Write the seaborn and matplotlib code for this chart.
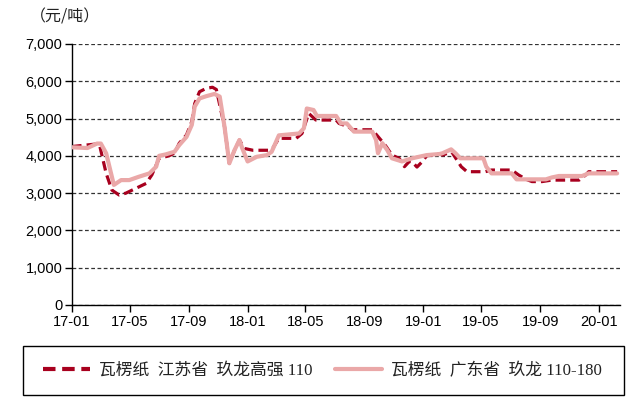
import numpy as np
import pandas as pd
import matplotlib
matplotlib.use("Agg")
import matplotlib.pyplot as plt
import matplotlib.dates as mdates
from matplotlib.lines import Line2D
from matplotlib.patches import Rectangle
import seaborn as sns

# ---- data ----
js_dates = ["2017-01-01", "2017-02-22", "2017-02-28", "2017-03-13", "2017-03-25", "2017-04-09",
            "2017-04-23", "2017-05-14", "2017-06-04", "2017-06-16", "2017-07-01", "2017-07-21",
            "2017-08-02", "2017-08-12", "2017-08-27", "2017-09-07", "2017-09-13", "2017-09-23",
            "2017-10-07", "2017-10-20", "2017-10-28", "2017-11-14", "2017-11-24", "2017-12-05",
            "2017-12-15", "2017-12-25", "2018-01-12", "2018-02-16", "2018-02-22", "2018-03-07",
            "2018-04-12", "2018-04-24", "2018-05-08", "2018-05-23", "2018-07-04", "2018-07-10",
            "2018-07-30", "2018-08-06", "2018-09-17", "2018-10-08", "2018-10-16", "2018-10-28",
            "2018-11-12", "2018-11-23", "2018-12-03", "2018-12-09", "2018-12-19", "2018-12-30",
            "2019-01-08", "2019-02-04", "2019-02-10", "2019-03-01", "2019-03-21", "2019-04-02",
            "2019-05-10", "2019-05-23", "2019-07-04", "2019-07-18", "2019-08-03", "2019-08-15",
            "2019-09-05", "2019-09-25", "2019-11-21", "2019-12-05", "2019-12-11", "2020-02-08"]
js_values = [4250, 4320, 4250, 3530, 3080, 2950,
             3000, 3130, 3260, 3490, 3930, 4000,
             4070, 4340, 4560, 4920, 5400, 5720,
             5810, 5840, 5780, 4780, 3800, 4160,
             4425, 4200, 4150, 4150, 4200, 4470,
             4470, 4600, 5140, 4960, 4960, 4870,
             4780, 4700, 4700, 4380, 4250, 4020,
             3935, 3710, 3850, 3840, 3700, 3845,
             4000, 4050, 4020, 4110, 3710, 3575,
             3575, 3620, 3620, 3490, 3370, 3310,
             3310, 3350, 3350, 3490, 3575, 3575]

gd_dates = ["2017-01-01", "2017-02-02", "2017-02-22", "2017-03-02", "2017-03-13", "2017-03-29",
            "2017-04-13", "2017-04-30", "2017-05-20", "2017-06-11", "2017-06-25", "2017-07-01",
            "2017-07-15", "2017-08-02", "2017-08-12", "2017-08-27", "2017-09-07", "2017-09-13",
            "2017-09-23", "2017-10-07", "2017-10-24", "2017-11-04", "2017-11-14", "2017-11-24",
            "2017-12-05", "2017-12-15", "2017-12-21", "2018-01-01", "2018-01-20", "2018-02-10",
            "2018-02-20", "2018-03-07", "2018-04-18", "2018-04-28", "2018-05-04", "2018-05-18",
            "2018-05-25", "2018-07-04", "2018-07-14", "2018-07-26", "2018-08-10", "2018-09-17",
            "2018-09-25", "2018-09-29", "2018-10-08", "2018-10-18", "2018-10-28", "2018-11-18",
            "2018-12-09", "2019-01-08", "2019-02-04", "2019-02-10", "2019-02-28", "2019-03-09",
            "2019-03-19", "2019-05-06", "2019-05-12", "2019-05-23", "2019-07-04", "2019-07-14",
            "2019-09-13", "2019-09-25", "2019-10-10", "2019-11-27", "2019-12-11", "2020-02-08"]
gd_values = [4230, 4210, 4330, 4330, 4070, 3220,
             3350, 3350, 3440, 3530, 3710, 4000,
             4040, 4110, 4290, 4510, 4830, 5320,
             5540, 5600, 5660, 5590, 4780, 3800,
             4160, 4425, 4200, 3850, 3975, 4020,
             4110, 4550, 4600, 4740, 5270, 5230,
             5070, 5070, 4870, 4870, 4650, 4650,
             4425, 4070, 4340, 4160, 3935, 3850,
             3935, 4020, 4050, 4070, 4175, 4070,
             3935, 3935, 3710, 3530, 3530, 3370,
             3370, 3420, 3460, 3460, 3530, 3530]

series_names = ["瓦楞纸  江苏省  玖龙高强 110", "瓦楞纸  广东省  玖龙 110-180"]
y_ticks = [0, 1000, 2000, 3000, 4000, 5000, 6000, 7000]
x_tick_dates = ["2017-01-01", "2017-05-01", "2017-09-01", "2018-01-01", "2018-05-01",
                "2018-09-01", "2019-01-01", "2019-05-01", "2019-09-01", "2020-01-01"]
unit_label = "（元/吨）"

df = pd.concat([
    pd.DataFrame({"date": pd.to_datetime(js_dates), "value": js_values, "series": series_names[0]}),
    pd.DataFrame({"date": pd.to_datetime(gd_dates), "value": gd_values, "series": series_names[1]}),
], ignore_index=True)

# ---- style ----
sns.set_theme(style="white")
plt.rcParams["font.family"] = ["Liberation Sans", "Noto Sans CJK SC", "DejaVu Sans"]

dark = "#A8001E"
pink = "#EAA8A8"

fig = plt.figure(figsize=(6.29, 3.97), dpi=100)
ax = fig.add_axes([72 / 629, 1 - 305 / 397, 548 / 629, 261 / 397])

sns.lineplot(data=df, x="date", y="value", hue="series", style="series",
             palette={series_names[0]: dark, series_names[1]: pink},
             dashes={series_names[0]: (3, 1.6), series_names[1]: ""},
             hue_order=series_names, style_order=series_names,
             linewidth=2.3, ax=ax, legend=False)
lines = ax.get_lines()
lines[0].set_linewidth(2.3)
lines[1].set_linewidth(3.0)
lines[1].set_zorder(3)
lines[0].set_zorder(2)

ax.set_ylim(0, 7000)
ax.set_yticks(y_ticks)
ax.set_yticklabels([f"{v:,}" for v in y_ticks])
ax.set_xlim(pd.Timestamp("2017-01-01"), pd.Timestamp("2020-02-14"))
ax.set_xticks(pd.to_datetime(x_tick_dates))
ax.xaxis.set_major_formatter(mdates.DateFormatter("%y-%m"))
ax.set_xlabel("")
ax.set_ylabel("")

ax.yaxis.grid(True, linestyle=(0, (3, 2)), color="#333333", linewidth=0.9)
ax.xaxis.grid(False)
ax.set_axisbelow(True)
for s in ["top", "right"]:
    ax.spines[s].set_visible(False)
for s in ["left", "bottom"]:
    ax.spines[s].set_color("black")
    ax.spines[s].set_linewidth(1.0)
ax.tick_params(axis="both", which="major", direction="out", length=5, width=1,
               color="black", labelsize=10.5, labelcolor="black", pad=2,
               left=True, bottom=True)

fig.text(65 / 629, 0.958, unit_label, ha="center", va="center", fontsize=11.5,
         family=["Noto Sans CJK SC", "DejaVu Sans"], color="#222222")

# legend frame drawn as a figure rectangle
fig.patches.append(Rectangle((22.5 / 629, 1 - 394.5 / 397), 601 / 629, 48.5 / 397,
                             transform=fig.transFigure, fill=False,
                             edgecolor="black", linewidth=1.0))

handles = [Line2D([], [], color=dark, linewidth=3.0, linestyle=(0, (3, 1.6))),
           Line2D([], [], color=pink, linewidth=3.0)]
leg = fig.legend(handles, series_names, loc="center left",
                 bbox_to_anchor=(43 / 629, 1 - 371 / 397),
                 ncol=2, frameon=False,
                 prop={"family": ["Liberation Serif", "Noto Sans CJK SC"], "size": 12.1},
                 handlelength=2.8, handletextpad=0.55, columnspacing=1.3,
                 borderpad=0, borderaxespad=0)
for t in leg.get_texts():
    t.set_color("#222222")

fig.savefig("out.png", dpi=100)
